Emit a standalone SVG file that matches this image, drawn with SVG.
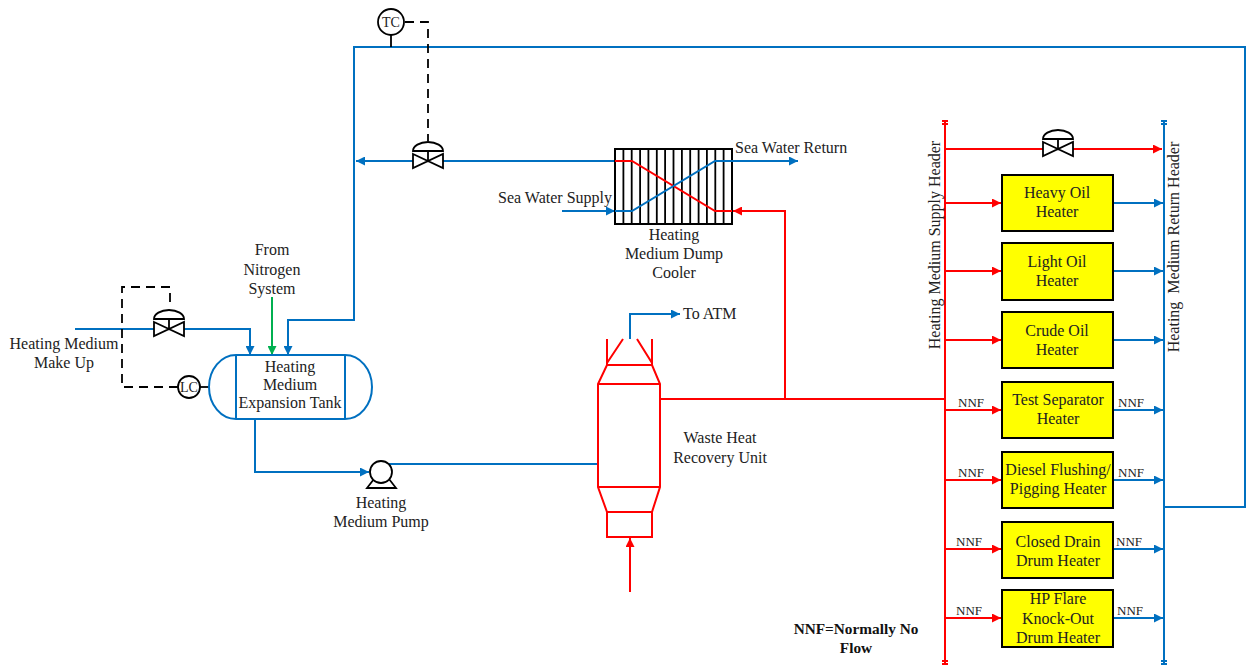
<svg xmlns="http://www.w3.org/2000/svg" width="1250" height="668" viewBox="0 0 1250 668">
<style>
text{font-family:"Liberation Serif","Times New Roman",serif;font-size:16px;fill:#222}
.m{text-anchor:middle}
.s{font-size:13px}
.ins{font-size:14px}
.b{fill:none;stroke:#0070C0;stroke-width:2}
.r{fill:none;stroke:#FF0000;stroke-width:2}
.g{fill:none;stroke:#00B050;stroke-width:2}
.k{fill:none;stroke:#000;stroke-width:1.8}
.d{fill:none;stroke:#000;stroke-width:1.8;stroke-dasharray:9,6}
.box{fill:#FFFF00;stroke:#000;stroke-width:2}
.valve{fill:#fff;stroke:#000;stroke-width:1.8}
</style>
<defs>
<marker id="ab" viewBox="0 0 10 10" refX="10" refY="5" markerWidth="13" markerHeight="9" markerUnits="userSpaceOnUse" orient="auto"><path d="M0,0 L10,5 L0,10 Z" fill="#0070C0"/></marker>
<marker id="ar" viewBox="0 0 10 10" refX="10" refY="5" markerWidth="13" markerHeight="9" markerUnits="userSpaceOnUse" orient="auto"><path d="M0,0 L10,5 L0,10 Z" fill="#FF0000"/></marker>
<marker id="ag" viewBox="0 0 10 10" refX="10" refY="5" markerWidth="13" markerHeight="9" markerUnits="userSpaceOnUse" orient="auto"><path d="M0,0 L10,5 L0,10 Z" fill="#00B050"/></marker>
<g id="valveSym">
<path d="M0,0 V-10" stroke="#000" stroke-width="1.8"/>
<path d="M-15,-10 A15,9 0 0 1 15,-10 Z" class="valve"/>
<path d="M-15,-7 L15,7 L15,-7 L-15,7 Z" class="valve"/>
</g>
</defs>

<g id="connectors">
<path class="b" d="M1164,507 H1245 V47 H354 V320 H288 V355" marker-end="url(#ab)"/>
<path class="b" d="M615,161 H356" marker-end="url(#ab)"/>
<path class="b" d="M75,329 H250 V355" marker-end="url(#ab)"/>
<path class="g" d="M272,297 V355" marker-end="url(#ag)"/>
<path class="b" d="M255,419 V472 H369" marker-end="url(#ab)"/>
<path class="b" d="M388,464 H598"/>
<path class="b" d="M630,339 V314 H680" marker-end="url(#ab)"/>
<path class="b" d="M562,211 H615" marker-end="url(#ab)"/>
<path class="r" d="M660,399 H945"/>
<path class="r" d="M785,399 V211 H733" marker-end="url(#ar)"/>
<path class="r" d="M630,592 V538" marker-end="url(#ar)"/>
<path class="r" d="M945,121 V664"/>
<path class="r" d="M942,121 H948 M942,124 H948 M942,661 H948 M942,664 H948" stroke-width="1.5"/>
<path class="b" d="M1164,121 V664"/>
<path class="b" d="M1161,121 H1167 M1161,124 H1167 M1161,661 H1167 M1161,664 H1167" stroke-width="1.5"/>
<path class="r" d="M945,149 H1162" marker-end="url(#ar)"/>
<path class="r" d="M945,203 H1001" marker-end="url(#ar)"/>
<path class="r" d="M945,271 H1001" marker-end="url(#ar)"/>
<path class="r" d="M945,340 H1001" marker-end="url(#ar)"/>
<path class="r" d="M945,410 H1001" marker-end="url(#ar)"/>
<path class="r" d="M945,480 H1001" marker-end="url(#ar)"/>
<path class="r" d="M945,549 H1001" marker-end="url(#ar)"/>
<path class="r" d="M945,618 H1001" marker-end="url(#ar)"/>
<path class="b" d="M1113,203 H1163" marker-end="url(#ab)"/>
<path class="b" d="M1113,271 H1163" marker-end="url(#ab)"/>
<path class="b" d="M1113,340 H1163" marker-end="url(#ab)"/>
<path class="b" d="M1113,410 H1163" marker-end="url(#ab)"/>
<path class="b" d="M1113,480 H1163" marker-end="url(#ab)"/>
<path class="b" d="M1113,549 H1163" marker-end="url(#ab)"/>
<path class="b" d="M1113,618 H1163" marker-end="url(#ab)"/>
<path class="k" d="M391,35 V47"/>
<path class="d" d="M405,22 H428 V141"/>
<path class="d" d="M178,387 H122 V287 H170 V306"/>
<path class="k" d="M200,387 H209"/>
</g>

<g id="tc">
<circle cx="391" cy="22" r="13" fill="#fff" stroke="#000" stroke-width="1.8"/>
<text x="391" y="27" class="m ins">TC</text>
</g>
<g id="valve-cooler-bypass"><use href="#valveSym" x="428" y="161"/></g>
<g id="valve-makeup"><use href="#valveSym" x="169" y="329"/></g>
<g id="valve-header-bypass"><use href="#valveSym" x="1058" y="149"/></g>

<g id="dump-cooler">
<rect x="615" y="149" width="117" height="75" fill="#fff" stroke="#000" stroke-width="2"/>
<path class="k" d="M623.4,149V224M631.7,149V224M640.1,149V224M648.4,149V224M656.8,149V224M665.1,149V224M673.5,149V224M681.9,149V224M690.2,149V224M698.6,149V224M706.9,149V224M715.3,149V224M723.6,149V224"/>
<path class="r" d="M615,161 H632 L715,211 H732"/>
<path class="b" d="M615,211 H632 L715,161 H732"/>
<path class="b" d="M732,161 H798" marker-end="url(#ab)"/>
<text x="735" y="153">Sea Water Return</text>
<text x="612" y="203" text-anchor="end">Sea Water Supply</text>
<text x="674" y="240" class="m">Heating</text>
<text x="674" y="259" class="m">Medium Dump</text>
<text x="674" y="278" class="m">Cooler</text>
</g>

<g id="nitrogen">
<text x="272" y="255" class="m">From</text>
<text x="272" y="275" class="m">Nitrogen</text>
<text x="272" y="294" class="m">System</text>
</g>
<g id="makeup">
<text x="64" y="349" class="m">Heating Medium</text>
<text x="64" y="368" class="m">Make Up</text>
</g>

<g id="expansion-tank">
<path d="M236,355 H345 A27,32 0 0 1 345,419 H236 A27,32 0 0 1 236,355 Z" fill="#fff" stroke="#0070C0" stroke-width="2"/>
<path class="b" d="M236,355 V419 M345,355 V419"/>
<text x="290" y="372" class="m">Heating</text>
<text x="290" y="390" class="m">Medium</text>
<text x="290" y="408" class="m">Expansion Tank</text>
</g>
<g id="lc">
<circle cx="189" cy="387" r="11" fill="#fff" stroke="#000" stroke-width="1.8"/>
<text x="189" y="392" class="m ins">LC</text>
</g>

<g id="pump">
<path class="k" d="M374,479 L367,488 H396 L389,479"/>
<circle cx="381" cy="472" r="11" fill="#fff" stroke="#000" stroke-width="1.8"/>
<text x="381" y="508" class="m">Heating</text>
<text x="381" y="527" class="m">Medium Pump</text>
</g>

<g id="whru">
<path class="r" d="M607,339 V365 M652,339 V365 M607,363 L623,339 M652,363 L637,339"/>
<path class="r" d="M607,365 H652 L660,384 V487 L652,512 H607 L598,487 V384 Z M598,384 H660 M598,487 H660"/>
<rect x="607" y="512" width="45" height="25" class="r"/>
<text x="683" y="319">To ATM</text>
<text x="720" y="443" class="m">Waste Heat</text>
<text x="720" y="463" class="m">Recovery Unit</text>
</g>

<g id="headers">
<text transform="translate(940,245) rotate(-90)" class="m">Heating Medium Supply Header</text>
<text transform="translate(1179,247) rotate(-90)" class="m" xml:space="preserve">Heating  Medium Return Header</text>
</g>

<g id="heater-heavy"><rect x="1002" y="175" width="111" height="56" class="box"/><text x="1057" y="198" class="m">Heavy Oil</text><text x="1057" y="217" class="m">Heater</text></g>
<g id="heater-light"><rect x="1002" y="243" width="111" height="57" class="box"/><text x="1057" y="267" class="m">Light Oil</text><text x="1057" y="286" class="m">Heater</text></g>
<g id="heater-crude"><rect x="1002" y="312" width="111" height="56" class="box"/><text x="1057" y="336" class="m">Crude Oil</text><text x="1057" y="355" class="m">Heater</text></g>
<g id="heater-test"><rect x="1002" y="382" width="111" height="56" class="box"/><text x="1058" y="405" class="m">Test Separator</text><text x="1058" y="424" class="m">Heater</text></g>
<g id="heater-diesel"><rect x="1002" y="452" width="111" height="56" class="box"/><text x="1058" y="475" class="m">Diesel Flushing/</text><text x="1058" y="494" class="m">Pigging Heater</text></g>
<g id="heater-drain"><rect x="1002" y="522" width="111" height="56" class="box"/><text x="1058" y="547" class="m">Closed Drain</text><text x="1058" y="566" class="m">Drum Heater</text></g>
<g id="heater-flare"><rect x="1002" y="590" width="111" height="57" class="box"/><text x="1058" y="604" class="m">HP Flare</text><text x="1058" y="624" class="m">Knock-Out</text><text x="1058" y="643" class="m">Drum Heater</text></g>

<g id="nnf-labels">
<text x="958" y="407" class="s">NNF</text><text x="1118" y="407" class="s">NNF</text>
<text x="958" y="477" class="s">NNF</text><text x="1118" y="477" class="s">NNF</text>
<text x="956" y="546" class="s">NNF</text><text x="1116" y="546" class="s">NNF</text>
<text x="956" y="615" class="s">NNF</text><text x="1117" y="615" class="s">NNF</text>
</g>
<g id="legend">
<text x="856" y="634" class="m" font-weight="bold" style="font-size:15.3px;fill:#111">NNF=Normally No</text>
<text x="856" y="653" class="m" font-weight="bold" style="font-size:15.3px;fill:#111">Flow</text>
</g>
</svg>
